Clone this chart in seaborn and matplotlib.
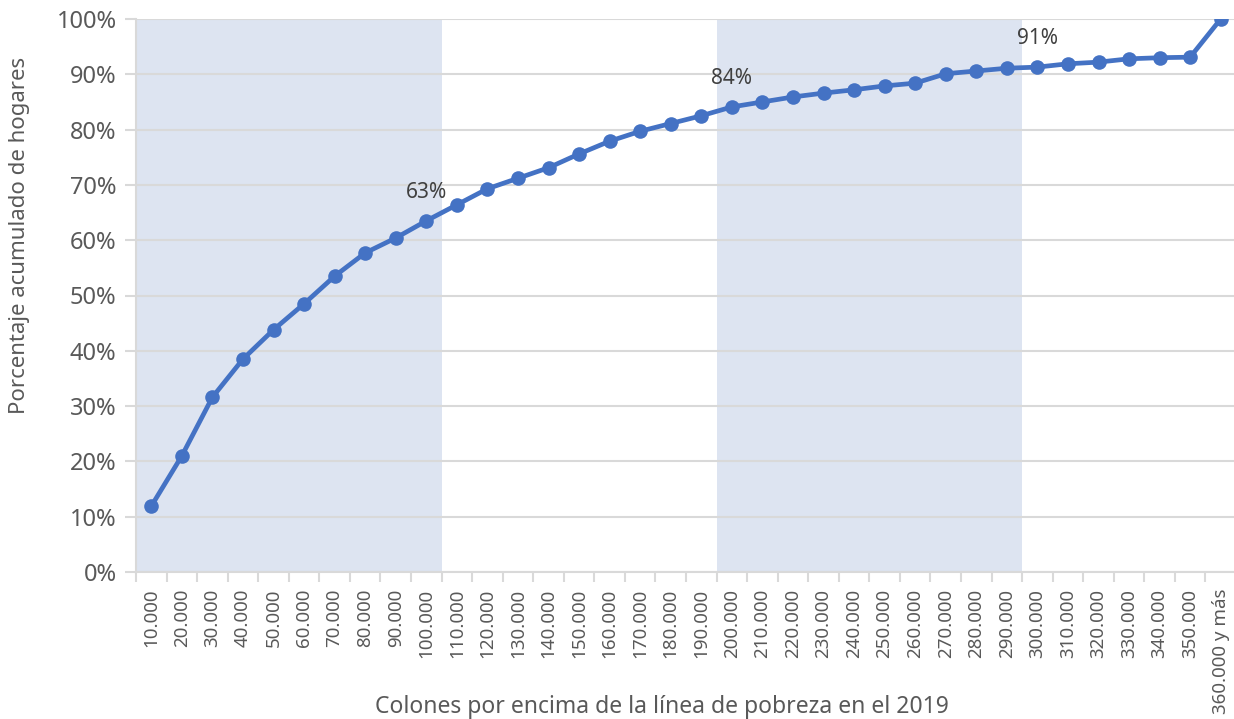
import matplotlib
matplotlib.use("Agg")
import matplotlib.pyplot as plt
import numpy as np
import pandas as pd
import seaborn as sns
from matplotlib.ticker import FixedLocator, PercentFormatter

# --- Data ---
categories = [f"{k}.000" for k in range(10, 360, 10)] + ["360.000 y más"]
cumulative_pct = [
    11.9, 21.0, 31.6, 38.5, 43.8, 48.5, 53.5, 57.7, 60.4, 63.5,
    66.4, 69.3, 71.2, 73.1, 75.6, 77.9, 79.7, 81.1, 82.5, 84.1,
    85.0, 85.9, 86.6, 87.2, 87.9, 88.4, 90.1, 90.6, 91.1, 91.3,
    91.9, 92.2, 92.8, 93.0, 93.1, 100.0,
]
shaded_ranges = [("10.000", "100.000"), ("200.000", "290.000")]
annotated = ["100.000", "200.000", "300.000"]
annotation_text = ["63%", "84%", "91%"]

# --- Style ---
LINE = "#4472C4"
SHADE = "#DDE4F1"
GRID = "#D9D9D9"
TEXT = "#595959"

sns.set_theme(style="white")
plt.rcParams["font.family"] = ["Noto Sans", "DejaVu Sans"]

df = pd.DataFrame({"pos": np.arange(len(categories)), "pct": cumulative_pct})

fig = plt.figure(figsize=(12.34, 7.19), dpi=100)
ax = fig.add_axes([136 / 1234, 1 - 572 / 719, 1100 / 1234, 553 / 719])

for start, end in shaded_ranges:
    ax.axvspan(categories.index(start) - 0.5, categories.index(end) + 0.5,
               color=SHADE, lw=0, zorder=0)

ax.set_axisbelow(True)
ax.yaxis.grid(True, color=GRID, lw=1.5)
ax.xaxis.grid(False)

sns.lineplot(data=df, x="pos", y="pct", ax=ax, color=LINE, lw=3.4,
             marker="o", markersize=10.5, markeredgewidth=0, zorder=3)

for cat, txt in zip(annotated, annotation_text):
    i = categories.index(cat)
    ax.annotate(txt, (i, cumulative_pct[i]), xytext=(0, 13),
                textcoords="offset points", ha="center", va="bottom",
                fontsize=15, color="#404040")

ax.set_xlim(-0.5, len(categories) - 0.5)
ax.set_ylim(0, 100)
ax.set_yticks(np.arange(0, 101, 10))
ax.yaxis.set_major_formatter(PercentFormatter(decimals=0))
ax.set_xticks(df["pos"])
ax.set_xticklabels(categories, rotation=90, fontsize=13.5, color=TEXT)
ax.xaxis.set_minor_locator(FixedLocator(np.arange(-0.5, len(categories), 1)))
ax.tick_params(axis="x", which="major", length=0, pad=12)
ax.tick_params(axis="x", which="minor", length=7, width=1.5, color=GRID, bottom=True)
ax.tick_params(axis="y", length=8, width=1.5, color=GRID, left=True,
               labelsize=17, labelcolor=TEXT, pad=6)
ax.set_xlabel("")
ax.set_ylabel("")

for side in ["top", "right"]:
    ax.spines[side].set_visible(False)
for side in ["left", "bottom"]:
    ax.spines[side].set_color(GRID)
    ax.spines[side].set_linewidth(1.5)

fig.text(662 / 1234, 1 - 707 / 719,
         "Colones por encima de la línea de pobreza en el 2019",
         ha="center", va="center", fontsize=16.5, color=TEXT)
fig.text(20 / 1234, 1 - 235 / 719, "Porcentaje acumulado de hogares",
         ha="center", va="center", rotation=90, fontsize=16, color=TEXT)

fig.savefig("out.png", dpi=100)
